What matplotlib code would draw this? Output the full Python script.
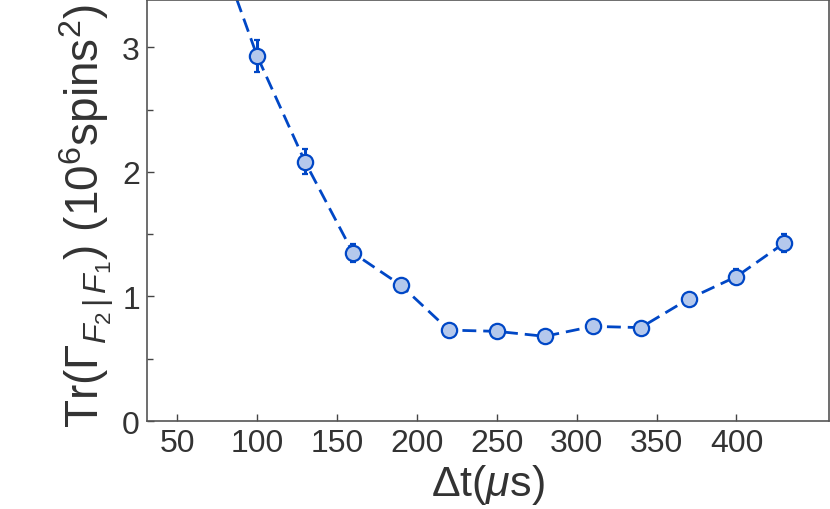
import numpy as np
import matplotlib
matplotlib.use("Agg")
import matplotlib.pyplot as plt

plt.rcParams['font.family'] = ['Liberation Sans', 'DejaVu Sans']
plt.rcParams['mathtext.fontset'] = 'custom'
plt.rcParams['mathtext.rm'] = 'Liberation Sans'
plt.rcParams['mathtext.it'] = 'Liberation Sans:italic'
plt.rcParams['mathtext.sf'] = 'Liberation Sans'

# Data
dt = [70, 100, 130, 160, 190, 220, 250, 280, 310, 340, 370, 400, 430]
trace = [4.0, 2.93, 2.08, 1.35, 1.09, 0.73, 0.72, 0.68, 0.76, 0.75, 0.98, 1.16, 1.43]
err = [0.15, 0.13, 0.10, 0.07, 0.04, 0.02, 0.02, 0.02, 0.02, 0.02, 0.03, 0.06, 0.07]
xticks = [50, 100, 150, 200, 250, 300, 350, 400]
yticks = [0, 1, 2, 3]

line_col = '#0047c6'
face_col = '#b4c8ec'
text_col = '#333333'

fig = plt.figure(figsize=(8.3, 5.1), dpi=100)
ax = fig.add_axes([0.177, 0.1725, 0.822, 0.8255])

ax.errorbar(dt, trace, yerr=err, color=line_col, ls=(0, (5, 2.5)), lw=2,
            marker='o', ms=11, mfc=face_col, mec=line_col, mew=1.6,
            ecolor=line_col, elinewidth=2.2, capsize=2.5, capthick=3.5)

ax.set_xlim(31, 458)
ax.set_ylim(0, 3.38)
ax.set_xticks(xticks)
ax.set_yticks(yticks)
ax.set_yticks([0.5, 1.5, 2.5], minor=True)
ax.tick_params(direction='in', length=5, width=1, labelsize=23, colors='#444444',
               labelcolor=text_col, pad=5)
ax.tick_params(which='minor', direction='in', length=4, width=1, colors='#444444')
for s in ax.spines.values():
    s.set_color('#555555')
    s.set_linewidth(1.2)

ax.set_xlabel(r'$\Delta$t($\mu$s)', fontsize=31, color=text_col, labelpad=3)
ax.set_ylabel(r'Tr($\Gamma_{F_2\,|\,F_1}$) (10$^6$spins$^2$)', fontsize=33,
              color=text_col)
ax.yaxis.set_label_coords(-0.045, 0.488)

fig.savefig('out.png', dpi=100)
